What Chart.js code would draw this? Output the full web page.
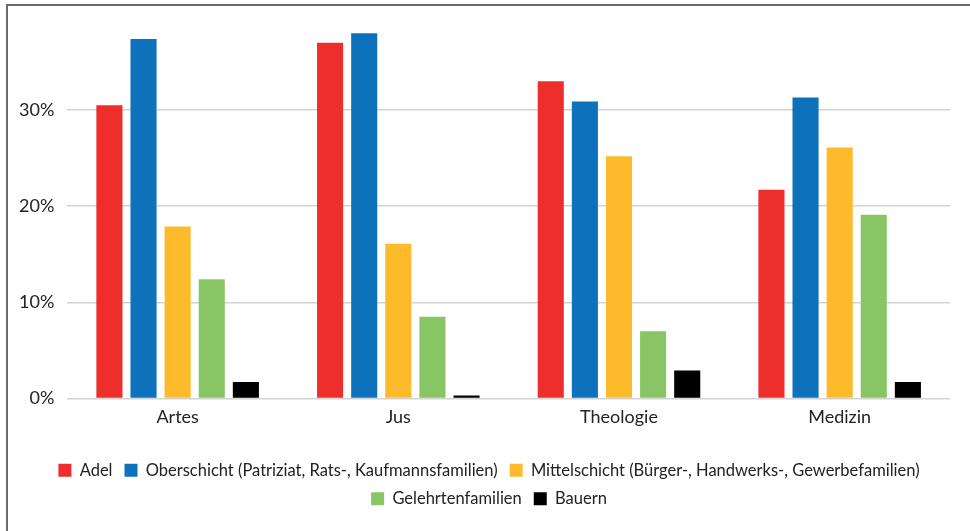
<!DOCTYPE html>
<html>
<head>
<meta charset="utf-8">
<script src="https://cdn.jsdelivr.net/npm/chart.js@4"></script>
<style>
  html, body { margin: 0; padding: 0; background: #fff; }
  #frame {
    position: absolute; left: 6px; top: 4px; width: 980px; height: 540px;
    border-top: 2px solid #6a6a6a; border-left: 2px solid #6a6a6a;
  }
  #wrap { position: absolute; left: 0; top: 0; width: 970px; height: 531px; }
</style>
</head>
<body>
<div id="frame"></div>
<div id="wrap"><canvas id="studyChart"></canvas></div>
<script>
const faculties = ['Artes', 'Jus', 'Theologie', 'Medizin'];
const groupNames = [
    'Adel',
    'Oberschicht (Patriziat, Rats-, Kaufmannsfamilien)',
    'Mittelschicht (Bürger-, Handwerks-, Gewerbefamilien)',
    'Gelehrtenfamilien',
    'Bauern'
];
const adel = [30.5, 37.0, 33.0, 21.7];
const oberschicht = [37.4, 38.0, 30.9, 31.3];
const mittelschicht = [17.9, 16.1, 25.2, 26.1];
const gelehrte = [12.4, 8.5, 7.0, 19.1];
const bauern = [1.7, 0.3, 2.9, 1.7];
const yTicks = [0, 10, 20, 30];

const colors = ['#ee2e2d', '#0d71bc', '#fdbb2b', '#88c665', '#000000'];
const series = [adel, oberschicht, mittelschicht, gelehrte, bauern];

// nudge the legend a bit to the right, like the original
const legendShift = {
    id: 'legendShift',
    afterLayout(chart) {
        chart.legend.left += 11;
        chart.legend.right += 11;
    }
};

const ctx = document.getElementById('studyChart').getContext('2d');
const studyChart = new Chart(ctx, {
    type: 'bar',
    data: {
        labels: faculties,
        datasets: series.map((vals, i) => ({
            label: groupNames[i],
            data: vals,
            backgroundColor: colors[i],
            borderWidth: 0,
            categoryPercentage: 0.773,
            barPercentage: 0.765
        }))
    },
    options: {
        responsive: true,
        maintainAspectRatio: false,
        animation: false,
        layout: {
            padding: { left: 6, right: 20, top: 14, bottom: 14 }
        },
        plugins: {
            tooltip: { enabled: false },
            legend: {
                display: true,
                position: 'bottom',
                labels: {
                    color: '#222',
                    boxWidth: 13,
                    boxHeight: 13,
                    padding: 12,
                    font: { family: 'Lato', size: 16.5 }
                }
            }
        },
        scales: {
            x: {
                grid: { display: false },
                border: { display: false },
                ticks: {
                    color: '#222',
                    padding: 0,
                    font: { family: 'Lato', size: 18 }
                },
                afterFit: (scale) => { scale.height += 22; }
            },
            y: {
                min: 0,
                max: 40,
                border: { display: false },
                grid: {
                    drawTicks: false,
                    color: '#d3d3d3',
                    lineWidth: 1.5
                },
                ticks: {
                    stepSize: 10,
                    padding: 13,
                    color: '#222',
                    font: { family: 'Lato', size: 18 },
                    callback: (v) => yTicks.includes(v) ? v + '%' : null
                },
                afterFit: (scale) => { scale.paddingTop = 0; }
            }
        }
    },
    plugins: [legendShift]
});
</script>
</body>
</html>
